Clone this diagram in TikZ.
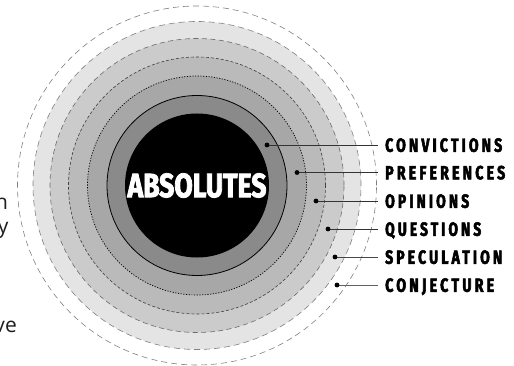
\documentclass[tikz,border=0pt]{standalone}
\usepackage{fontspec}
\usepackage{graphicx}
\setmainfont{Open Sans}
\newfontfamily\labfont[FakeStretch=0.62,LetterSpace=14,FakeBold=2.4]{Fira Sans}
\newfontfamily\absfont[FakeStretch=0.74,FakeBold=2.2]{Fira Sans}
\definecolor{ringA}{HTML}{E4E4E4}
\definecolor{ringB}{HTML}{CBCBCB}
\definecolor{ringC}{HTML}{BABABA}
\definecolor{ringD}{HTML}{A7A7A7}
\definecolor{ringE}{HTML}{8A8A8A}
\definecolor{txtgray}{HTML}{1E1E1E}
\tikzset{
  outerring/.style={draw=black!50,line width=0.6pt,dash pattern=on 6pt off 4pt},
  ringa/.style={fill=ringA,draw=black!50,line width=0.6pt,dash pattern=on 6pt off 4pt},
  ringb/.style={fill=ringB,draw=black!58,line width=0.6pt,dash pattern=on 5pt off 3.5pt},
  ringc/.style={fill=ringC,draw=black!75,line width=0.6pt,dash pattern=on 3pt off 2pt},
  ringd/.style={fill=ringD,draw=black,line width=0.7pt,dash pattern=on 1.2pt off 1.5pt},
  ringe/.style={fill=ringE,draw=black,line width=0.8pt},
  core/.style={fill=black},
  labnode/.style={inner sep=0pt,anchor=base west},
  leader/.style={draw=black!80,line width=0.9pt},
  dotmark/.style={fill=black},
  sidetext/.style={inner sep=0pt,anchor=base east,text=txtgray,font=\fontsize{21pt}{25pt}\selectfont}
}
\newcommand{\lbl}[2]{\resizebox{#1}{13.6pt}{\labfont\bfseries #2}}
\begin{document}
\begin{tikzpicture}[x=1pt,y=-1pt]
\useasboundingbox (0,0) rectangle (514,366);
\clip (0,0) rectangle (514,366);
\coordinate (c) at (197,185.5);
% rings
\path[outerring] (c) circle[radius=179.5pt];
\path[ringa] (c) circle[radius=164pt];
\path[ringb] (c) circle[radius=147pt];
\path[ringc] (c) circle[radius=128.5pt];
\path[ringd] (c) circle[radius=109.5pt];
\path[ringe] (c) circle[radius=90pt];
\path[core] (c) circle[radius=72pt];
\node[inner sep=0pt,text=white] (abs) at (c) {\resizebox{139pt}{24pt}{\absfont\bfseries ABSOLUTES}};
% side text fragments (cut by the picture's left edge, as in the reference)
\node[sidetext] (s1) at (8.3,209.5) {n};
\node[sidetext] (s2) at (8.6,233.5) {y};
\node[sidetext] (s3) at (17,332) {ve};
% dots
\coordinate (d1) at (267,145);
\coordinate (d2) at (297,172.5);
\coordinate (d3) at (316,201);
\coordinate (d4) at (328,229);
\coordinate (d5) at (335,257);
\coordinate (d6) at (337,285);
% leader ends
\coordinate (e1) at (378,145);
\coordinate (e2) at (378,172.5);
\coordinate (e3) at (378,201);
\coordinate (e4) at (378,229);
\coordinate (e5) at (378,257);
\coordinate (e6) at (378,285);
% labels
\node[labnode] (l1) at (385,151.8) {\lbl{117pt}{CONVICTIONS}};
\node[labnode] (l2) at (385,179.3) {\lbl{120pt}{PREFERENCES}};
\node[labnode] (l3) at (385,207.8) {\lbl{84pt}{OPINIONS}};
\node[labnode] (l4) at (385,235.8) {\lbl{96pt}{QUESTIONS}};
\node[labnode] (l5) at (385,263.8) {\lbl{117pt}{SPECULATION}};
\node[labnode] (l6) at (385,291.8) {\lbl{109pt}{CONJECTURE}};
% leaders
\draw[leader] (d1) -- (e1);
\draw[leader] (d2) -- (e2);
\draw[leader] (d3) -- (e3);
\draw[leader] (d4) -- (e4);
\draw[leader,draw=black!72] (d5) -- (e5);
\draw[leader,draw=black!62] (d6) -- (e6);
\foreach \d in {d1,d2,d3,d4,d5,d6} \fill[dotmark] (\d) circle[radius=2.4pt];
\end{tikzpicture}
\end{document}
